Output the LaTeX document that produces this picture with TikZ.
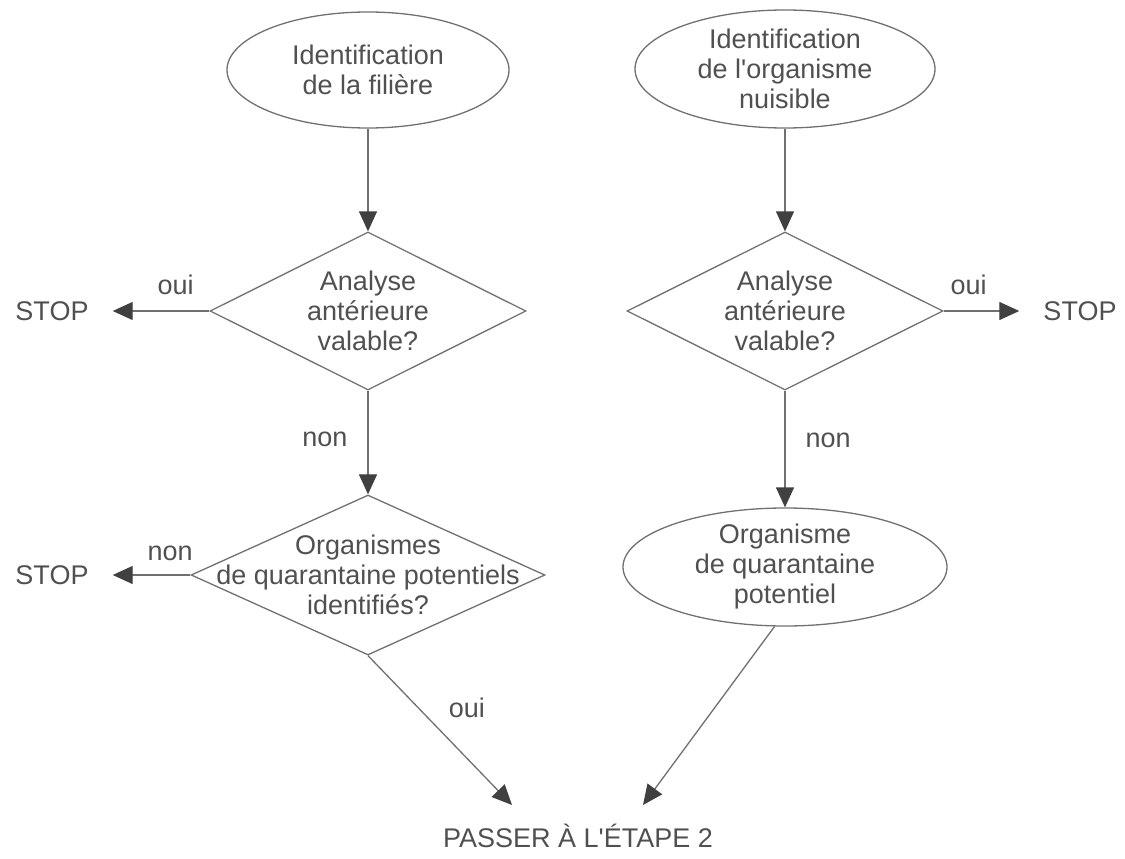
\documentclass[tikz,border=0pt]{standalone}
\usepackage{fontspec}
\setmainfont{Liberation Sans}
\usetikzlibrary{shapes.geometric,arrows.meta}

\definecolor{linegray}{HTML}{707070}
\definecolor{tipgray}{HTML}{404040}
\definecolor{textgray}{HTML}{505050}

\tikzset{
	txt/.style={text=textgray, font=\fontsize{27}{30}\selectfont, align=center},
	startbox/.style={ellipse, draw=linegray, line width=1.3pt, inner sep=0pt},
	decisionbox/.style={diamond, draw=linegray, line width=1.3pt, inner sep=0pt},
	flow/.style={draw=linegray, line width=1.3pt, -{Triangle[length=20pt,width=18pt,color=tipgray]}},
	stopbox/.style={txt, inner xsep=24pt},
	lbl/.style={txt, inner sep=0pt, anchor=base},
}

\begin{document}
\begin{tikzpicture}[x=1pt, y=-1pt]
	% page frame
	\useasboundingbox (0,0) rectangle (1125,859);

	% left column
	\node[startbox, minimum width=282pt, minimum height=116pt, label={[txt]center:{Identification\\de la filière}}] (filiere) at (368,70) {};
	\node[decisionbox, minimum width=316pt, minimum height=158pt, label={[txt]center:{Analyse\\antérieure\\valable?}}] (analyse1) at (368,311) {};
	\node[decisionbox, minimum width=354pt, minimum height=160pt, label={[txt]center:{Organismes\\de quarantaine potentiels\\identifiés?}}] (quarantaine) at (368,575) {};

	% right column
	\node[startbox, minimum width=300pt, minimum height=118pt, label={[txt]center:{Identification\\de l\textquotesingle organisme\\nuisible}}] (nuisible) at (785,69) {};
	\node[decisionbox, minimum width=316pt, minimum height=158pt, label={[txt]center:{Analyse\\antérieure\\valable?}}] (analyse2) at (785,311) {};
	\node[startbox, minimum width=324pt, minimum height=118pt, label={[txt]center:{Organisme\\de quarantaine\\potentiel}}] (potentiel) at (785,567) {};

	% exits
	\node[stopbox] (stop1) at (52,311) {STOP};
	\node[stopbox] (stop2) at (1080,311) {STOP};
	\node[stopbox] (stop3) at (52,575) {STOP};
	\node[txt] (passer) at (578,836) {PASSER À L\textquotesingle ÉTAPE 2};
	\coordinate (in1) at (512,805);
	\coordinate (in2) at (643,805);

	% arrows
	\draw[flow] (filiere) -- (analyse1);
	\draw[flow] (analyse1.west) -- (stop1) node[lbl, pos=.35, yshift=17pt] (oui1) {oui};
	\draw[flow] (analyse1) -- (quarantaine) node[lbl, anchor=base east, pos=.5, xshift=-20pt, yshift=-4pt] (non1) {non};
	\draw[flow] (quarantaine.west) -- (stop3) node[lbl, pos=.26, yshift=15pt] (non3) {non};
	\draw[flow] (quarantaine.south) -- (in1) node[lbl, anchor=base west, pos=.37, xshift=27pt, yshift=-7pt] (oui3) {oui};

	\draw[flow] (nuisible) -- (analyse2);
	\draw[flow] (analyse2.east) -- (stop2) node[lbl, pos=.33, yshift=17pt] (oui2) {oui};
	\draw[flow] (analyse2) -- (potentiel) node[lbl, anchor=base west, pos=.5, xshift=20pt, yshift=2pt] (non2) {non};
	\draw[flow] (potentiel.-100) -- (in2);
\end{tikzpicture}
\end{document}
